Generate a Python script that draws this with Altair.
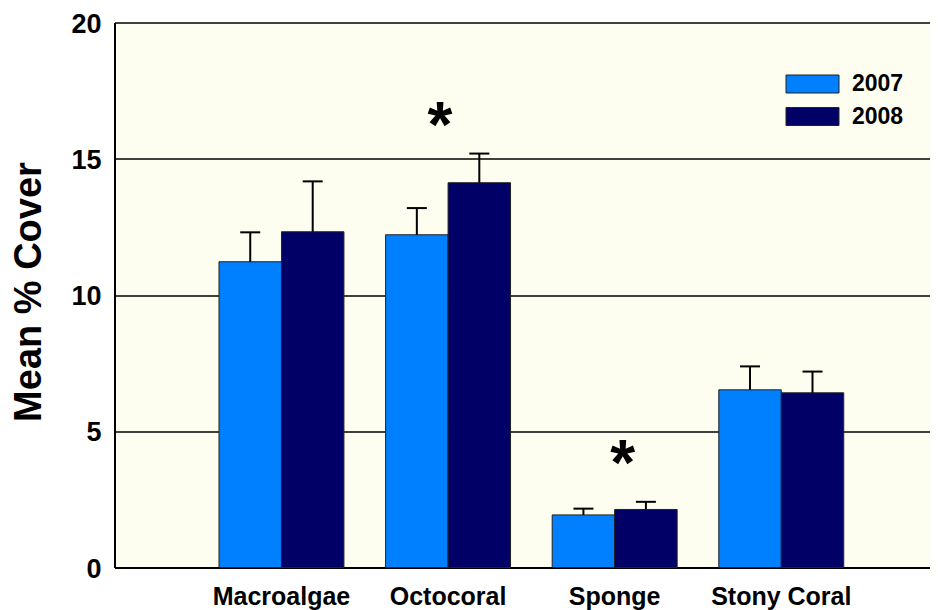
import altair as alt
import pandas as pd

categories = ["Macroalgae", "Octocoral", "Sponge", "Stony Coral"]
years = ["2007", "2008"]
mean_2007 = [11.22, 12.21, 1.93, 6.52]
mean_2008 = [12.32, 14.12, 2.13, 6.41]
err_2007 = [1.08, 0.98, 0.23, 0.86]
err_2008 = [1.85, 1.07, 0.28, 0.78]
sig_categories = ["Octocoral", "Sponge"]
sig_level = [16.57, 4.20]
colors = ["#0080FF", "#000066"]

rows = []
for i, c in enumerate(categories):
    rows.append({"cat": c, "year": "2007", "mean": mean_2007[i], "hi": mean_2007[i] + err_2007[i]})
    rows.append({"cat": c, "year": "2008", "mean": mean_2008[i], "hi": mean_2008[i] + err_2008[i]})
df = pd.DataFrame(rows)
sig = pd.DataFrame({"cat": sig_categories, "level": sig_level, "label": ["*", "*"]})

FONT = "Liberation Sans, Arial, sans-serif"

x_enc = alt.X(
    "cat:N",
    sort=categories,
    scale=alt.Scale(domain=categories, paddingInner=0.25, paddingOuter=0.5725, align=0.5478),
    axis=alt.Axis(
        title=None, labelAngle=0, labelFont=FONT, labelFontSize=25, labelFontWeight="bold",
        labelColor="black", ticks=False, tickSize=0, labelPadding=16.5,
        domainColor="black", domainWidth=2, grid=False,
    ),
)
y_scale = alt.Scale(domain=[0, 20], nice=False, zero=True)
xoff = alt.XOffset("year:N", sort=years, scale=alt.Scale(domain=years))

bars = alt.Chart(df).mark_bar(stroke="#222222", strokeWidth=1).encode(
    x=x_enc,
    xOffset=xoff,
    y=alt.Y(
        "mean:Q",
        scale=y_scale,
        axis=alt.Axis(
            title="Mean % Cover", values=[0, 5, 10, 15, 20], grid=True, gridColor="black",
            gridWidth=1.3, gridOpacity=1, ticks=False, tickSize=0, labelPadding=13.5,
            labelFont=FONT, labelFontSize=27, labelFontWeight="bold", labelColor="black",
            labelOffset=1.5,
            domainColor="black", domainWidth=2,
            titleFont=FONT, titleFontSize=38, titleFontWeight="bold", titleColor="black",
            titleAngle=270, titleBaseline="alphabetic", titleAlign="center",
            titleX=-74.5, titleY=269,
        ),
    ),
    color=alt.Color(
        "year:N",
        scale=alt.Scale(domain=years, range=colors),
        legend=alt.Legend(
            title=None, orient="none", legendX=686.5, legendY=50, padding=0,
            symbolType="M-2.944,-1L2.944,-1L2.944,1L-2.944,1Z", symbolSize=324,
            symbolStrokeColor="#222222", symbolStrokeWidth=1, symbolOpacity=1,
            labelFont=FONT, labelFontSize=23, labelFontWeight="bold", labelColor="black",
            labelOffset=28, rowPadding=8.5,
        ),
    ),
)

err_rule = alt.Chart(df).mark_rule(color="black", strokeWidth=2).encode(
    x=alt.X("cat:N", sort=categories), xOffset=xoff, y="mean:Q", y2="hi:Q"
)
err_cap = alt.Chart(df).mark_tick(color="black", thickness=2, size=20, opacity=1).encode(
    x=alt.X("cat:N", sort=categories), xOffset=xoff, y="hi:Q"
)
star_base = alt.Chart(sig).encode(
    x=alt.X("cat:N", sort=categories), y="level:Q", text="label:N"
)
star_style = dict(font=FONT, fontSize=64, fontWeight="bold", color="black",
                  baseline="alphabetic", dy=31.5)
star1 = star_base.mark_text(dx=-8, **star_style).transform_filter(
    alt.datum.cat == sig_categories[0])
star2 = star_base.mark_text(dx=8, **star_style).transform_filter(
    alt.datum.cat == sig_categories[1])

chart = alt.layer(bars, err_rule, err_cap, star1, star2).properties(
    width=815.5, height=545,
    autosize=alt.AutoSizeParams(type="none"),
    padding={"left": 106.5, "top": 14.5, "right": 0, "bottom": 46},
    background="white",
).configure_view(fill="#FDFDF0", stroke=None)

chart.save("out.html", embed_options={"renderer": "svg", "actions": False})
